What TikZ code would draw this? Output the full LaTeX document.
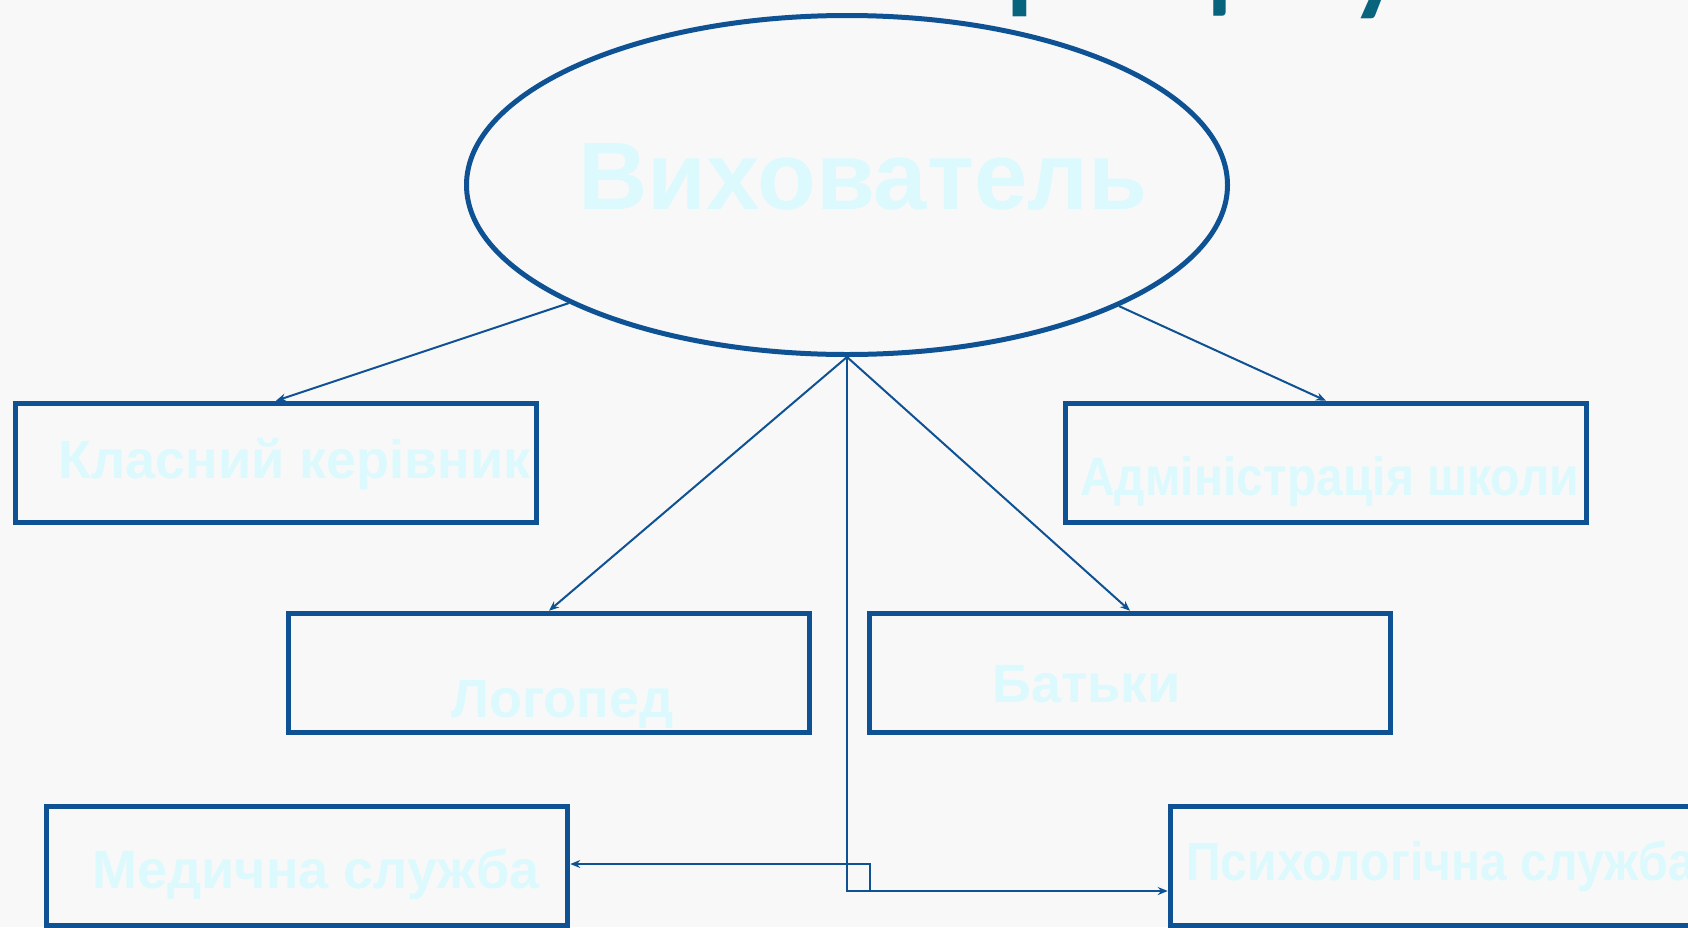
\documentclass[tikz,border=0pt]{standalone}
\usepackage{fontspec}
\setmainfont{Liberation Sans}
\newfontfamily\narrowfont[FakeStretch=0.89]{Liberation Sans}
\newfontfamily\titlefont{Carlito}
\usepackage{xcolor}
\usetikzlibrary{shapes.geometric, arrows.meta}
\definecolor{lineblue}{RGB}{14,82,148}
\definecolor{paleblue}{RGB}{220,250,253}
\definecolor{titleteal}{RGB}{8,100,124}
\definecolor{bggray}{RGB}{248,248,248}

\begin{document}
\begin{tikzpicture}[x=1pt, y=-1pt,
  box/.style={draw=lineblue, line width=5.5pt, minimum width=521pt, minimum height=119pt, inner sep=0pt},
  lbl/.style={anchor=base west, inner sep=0pt, text=paleblue, font=\bfseries\fontsize{54}{60}\selectfont},
  narrowlbl/.style={lbl, font=\narrowfont\bfseries\fontsize{54}{60}\selectfont},
  ttl/.style={anchor=base west, inner sep=0pt, text=titleteal, font=\titlefont\bfseries\fontsize{110}{112}\selectfont},
  link/.style={draw=lineblue, line width=2pt, -{Stealth[length=10pt,width=8pt]}}]
\clip (0,0) rectangle (1688,927);
\fill[bggray] (0,0) rectangle (1688,927);

\node (t1) at (1006,-1) [ttl] {р};
\node (t2) at (1165,-2) [ttl] {ц};
\node (t3) at (1350,1) [ttl] {у};

\node (vyh) at (847,185) [ellipse, draw=lineblue, line width=5pt, minimum width=761pt, minimum height=339pt, inner sep=0pt] {};
\node (vyhtext) at (578,209) [lbl, font=\bfseries\fontsize{96}{100}\selectfont] {Вихователь};

\node (klas) at (276,463) [box] {};
\node (adm) at (1326,463) [box] {};
\node (logo) at (549,673) [box] {};
\node (batk) at (1130,673) [box] {};
\node (med) at (307,866) [box] {};
\node (psy) at (1431,866) [box] {};

\node (klastext) at (58,478) [lbl] {Класний керівник};
\node (admtext) at (1080,495) [narrowlbl] {Адміністрація школи};
\node (logotext) at (451,717) [lbl] {Логопед};
\node (batktext) at (992,702) [lbl] {Батьки};
\node (medtext) at (92,888) [lbl] {Медична служба};
\node (psytext) at (1186,880) [narrowlbl] {Психологічна служба};

\draw[link] (vyh.203.8) -- (klas.north);
\draw[link] (vyh.336.2) -- (adm.north);
\draw[link] (vyh.south) -- (logo.north);
\draw[link] (vyh.south) -- (batk.north);
\draw[link] (vyh.south) |- ([yshift=-25pt]psy.west);
\coordinate (split) at (870,891);
\draw[link] (split) |- ([yshift=2pt]med.east);
\end{tikzpicture}
\end{document}
